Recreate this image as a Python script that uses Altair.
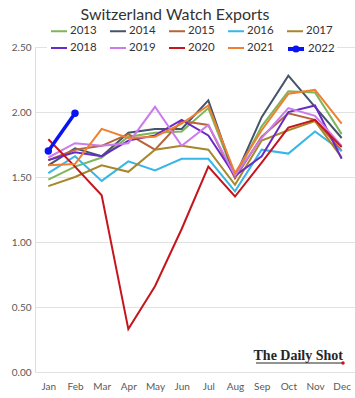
import altair as alt
import pandas as pd

months = ["Jan", "Feb", "Mar", "Apr", "May", "Jun", "Jul", "Aug", "Sep", "Oct", "Nov", "Dec"]
years = ["2013", "2014", "2015", "2016", "2017", "2018", "2019", "2020", "2021", "2022"]
colors = ["#7CB65A", "#44546A", "#B5653A", "#37B6E8", "#A8862A",
          "#6A2BC4", "#CC7AF0", "#C4161C", "#F08030", "#0A14F0"]

v2013 = [1.48, 1.58, 1.65, 1.81, 1.84, 1.85, 2.03, 1.50, 1.89, 2.16, 2.15, 1.83]
v2014 = [1.59, 1.72, 1.66, 1.84, 1.87, 1.87, 2.09, 1.50, 1.96, 2.28, 2.04, 1.80]
v2015 = [1.63, 1.71, 1.74, 1.83, 1.71, 1.93, 1.90, 1.49, 1.81, 1.99, 1.94, 1.70]
v2016 = [1.53, 1.66, 1.47, 1.62, 1.55, 1.64, 1.64, 1.39, 1.71, 1.68, 1.85, 1.70]
v2017 = [1.43, 1.50, 1.59, 1.54, 1.71, 1.74, 1.71, 1.44, 1.78, 1.86, 1.93, 1.65]
v2018 = [1.63, 1.69, 1.66, 1.78, 1.82, 1.94, 1.82, 1.51, 1.66, 2.00, 2.05, 1.64]
v2019 = [1.65, 1.76, 1.74, 1.76, 2.04, 1.74, 1.90, 1.51, 1.80, 2.03, 1.97, 1.74]
v2020 = [1.79, 1.58, 1.36, 0.33, 0.66, 1.10, 1.58, 1.35, 1.61, 1.88, 1.94, 1.73]
v2021 = [1.59, 1.60, 1.87, 1.80, 1.81, 1.91, 2.05, 1.53, 1.86, 2.14, 2.17, 1.91]
v2022 = [1.70, 1.99]

series = [v2013, v2014, v2015, v2016, v2017, v2018, v2019, v2020, v2021, v2022]
rows = []
for yr, vals in zip(years, series):
    for m, v in zip(months, vals):
        rows.append({"year": yr, "month": m, "value": v})
df = pd.DataFrame(rows)

x = alt.X("month:N", sort=months, scale=alt.Scale(type="point", padding=0.5),
          axis=alt.Axis(title=None, labelAngle=0, domain=False, ticks=False,
                        labelPadding=9, labelFontSize=10, labelColor="#595959",
                        labelFont="Lato", grid=False))
y = alt.Y("value:Q", scale=alt.Scale(domain=[0, 2.5], nice=False),
          axis=alt.Axis(title=None, values=[0, 0.5, 1, 1.5, 2, 2.5], format=".2f",
                        domain=False, ticks=False, labelPadding=4, labelFontSize=10,
                        labelColor="#595959", labelFont="Lato",
                        gridColor="#e2e2e2", gridWidth=1))

legend = alt.Legend(
    title=None, orient="none", legendX=12, legendY=-28, columns=5, direction="horizontal",
    symbolType="stroke", symbolSize=256, symbolStrokeWidth=2, labelFontSize=11.5,
    labelColor="#333333", labelFont="Lato", labelOffset=2, columnPadding=9,
    rowPadding=2, fillColor="white", padding=3, strokeColor="white")

color = alt.Color("year:N", scale=alt.Scale(domain=years[:-1], range=colors[:-1]), legend=legend)

lines = alt.Chart(df[df.year != "2022"]).mark_line(strokeWidth=2).encode(x=x, y=y, color=color)
d22 = df[df.year == "2022"]
line22 = alt.Chart(d22).mark_line(strokeWidth=3.5, color="#0A14F0").encode(x=x, y=y)
pts22 = alt.Chart(d22).mark_circle(size=55, opacity=1, color="#0A14F0").encode(x=x, y=y)

# legend entry for 2022 (line with marker); its single row has no value, so nothing is plotted
path22 = "M-1,0L1,0M-0.2,0A0.2,0.2,0,1,1,0.2,0A0.2,0.2,0,1,1,-0.2,0"
legend22 = alt.Legend(
    title=None, orient="none", legendX=251, legendY=-8, symbolSize=256,
    symbolStrokeWidth=4, symbolStrokeColor="#0A14F0",
    labelFontSize=11.5, labelColor="#333333", labelFont="Lato", labelOffset=2,
    padding=0, fillColor="white")
leg_df = pd.DataFrame({"year": ["2022"], "month": ["Jan"], "value": [None]})
leg22 = alt.Chart(leg_df).mark_point(filled=False, strokeWidth=4, color="#0A14F0", opacity=1).encode(
    x=x, y=y,
    shape=alt.Shape("year:N", scale=alt.Scale(domain=["2022"], range=[path22]), legend=legend22))

logo = alt.Chart(pd.DataFrame({"t": ["The Daily Shot"]})).mark_text(
    font="Liberation Serif", fontWeight="bold", fontSize=14, color="#262626",
    align="right", baseline="alphabetic").encode(
    text="t:N", x=alt.value(308), y=alt.value(313))
underline = alt.Chart(pd.DataFrame({"a": [0]})).mark_rule(color="#262626", strokeWidth=1).encode(
    x=alt.value(221), x2=alt.value(308), y=alt.value(316))
dot = alt.Chart(pd.DataFrame({"a": [0]})).mark_point(filled=True, color="#D01010", size=12, opacity=1).encode(
    x=alt.value(308), y=alt.value(316))

chart = alt.layer(lines, line22, pts22, leg22, logo, underline, dot).properties(
    width=320, height=325,
    title=alt.Title("Switzerland Watch Exports", fontSize=16, font="Lato",
                    fontWeight="normal", color="#333333", anchor="middle", offset=-4, dx=-20),
    autosize=alt.AutoSizeParams(type="none"),
    padding={"left": 35, "top": 47, "right": 0, "bottom": 26},
).resolve_legend(color="independent", shape="independent").configure_view(stroke=None).configure(background="white")

chart.save("out.html", embed_options={"renderer": "svg", "actions": False})
